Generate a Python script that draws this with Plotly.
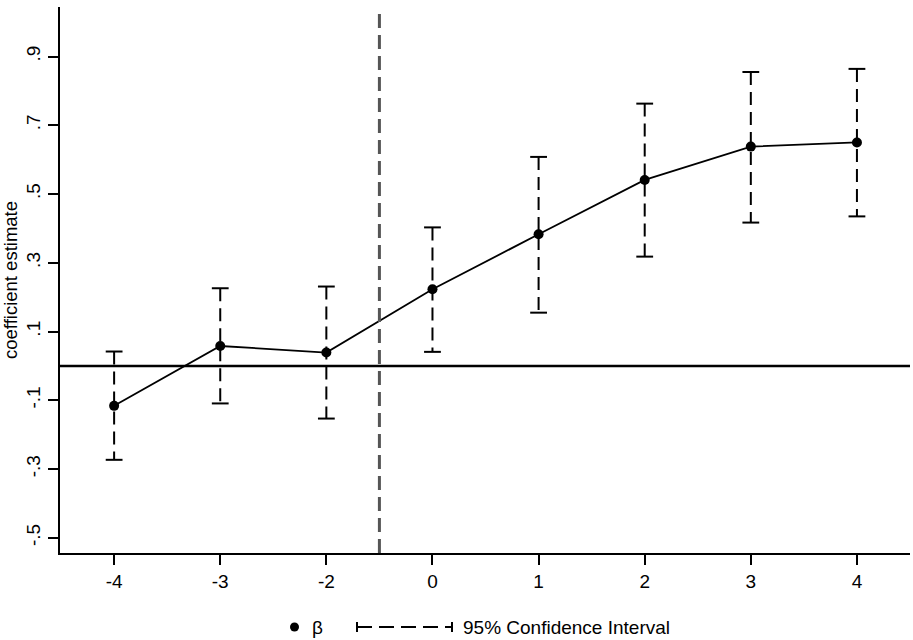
import plotly.graph_objects as go

categories = ["-4", "-3", "-2", "0", "1", "2", "3", "4"]
beta = [-0.116, 0.058, 0.039, 0.223, 0.383, 0.541, 0.638, 0.650]
ci_low = [-0.273, -0.109, -0.153, 0.041, 0.155, 0.318, 0.417, 0.435]
ci_high = [0.042, 0.226, 0.231, 0.403, 0.608, 0.763, 0.855, 0.864]
ytick_vals = [-0.5, -0.3, -0.1, 0.1, 0.3, 0.5, 0.7, 0.9]
ytick_text = ["-.5", "-.3", "-.1", ".1", ".3", ".5", ".7", ".9"]
ref_after = "0"  # vertical reference line placed just before this period

FONT = "Liberation Sans, Arial, Helvetica, sans-serif"

fig = go.Figure()

# CI dashed segments
seg_x, seg_y = [], []
for c, lo, hi in zip(categories, ci_low, ci_high):
    seg_x += [c, c, None]
    seg_y += [hi, lo, None]
fig.add_trace(go.Scatter(x=seg_x, y=seg_y, mode="lines",
                         line=dict(color="black", width=2, dash="13px,7px"),
                         connectgaps=False, hoverinfo="skip", showlegend=False))
# CI caps
fig.add_trace(go.Scatter(x=categories + categories, y=ci_high + ci_low, mode="markers",
                         marker=dict(symbol="line-ew", size=12, color="black",
                                     line=dict(color="black", width=2)),
                         hoverinfo="skip", showlegend=False))
# point estimates
fig.add_trace(go.Scatter(x=categories, y=beta, mode="lines+markers",
                         line=dict(color="black", width=1.8),
                         marker=dict(color="black", size=10),
                         showlegend=False))

ref_x = categories.index(ref_after) - 0.5
shapes = [
    dict(type="line", xref="x", yref="paper", x0=ref_x, x1=ref_x, y0=0, y1=1,
         line=dict(color="#555555", width=3, dash="14px,7px")),
    dict(type="line", xref="paper", yref="y", x0=0, x1=1, y0=0, y1=0,
         line=dict(color="black", width=2.4)),
]

# manual legend (paper coordinates)
def px(xp):
    return (xp - 60) / 850.0

def py(yp):
    return (553 - yp) / 546.0

ly = py(627)
shapes += [
    dict(type="circle", xref="paper", yref="paper", xsizemode="pixel", ysizemode="pixel",
         xanchor=px(294.5), yanchor=ly, x0=-4.5, x1=4.5, y0=-4.5, y1=4.5,
         fillcolor="black", line=dict(color="black", width=0)),
    dict(type="line", xref="paper", yref="paper", x0=px(357), x1=px(452), y0=ly, y1=ly,
         line=dict(color="black", width=2, dash="15px,7px")),
    dict(type="line", xref="paper", yref="paper", x0=px(357), x1=px(357), y0=py(622), y1=py(632),
         line=dict(color="black", width=2)),
    dict(type="line", xref="paper", yref="paper", x0=px(452), x1=px(452), y0=py(622), y1=py(632),
         line=dict(color="black", width=2)),
]
annotations = [
    dict(text="β", xref="paper", yref="paper", x=px(317), y=ly, showarrow=False,
         xanchor="center", yanchor="middle", font=dict(family=FONT, size=19, color="black")),
    dict(text="95% Confidence Interval", xref="paper", yref="paper", x=px(461), y=ly,
         showarrow=False, xanchor="left", yanchor="middle",
         font=dict(family=FONT, size=19, color="black")),
]

fig.update_layout(
    width=913, height=640,
    margin=dict(l=60, r=3, t=7, b=87),
    plot_bgcolor="white", paper_bgcolor="white",
    showlegend=False,
    shapes=shapes, annotations=annotations,
    font=dict(family=FONT, color="black"),
    xaxis=dict(type="category", categoryorder="array", categoryarray=categories,
               range=[-0.51, 7.5], showline=True, linecolor="black", linewidth=2,
               ticks="outside", ticklen=10, tickwidth=2, tickcolor="black",
               showgrid=False, zeroline=False, automargin=False,
               tickfont=dict(family=FONT, size=19, color="black")),
    yaxis=dict(range=[-0.544, 1.044], tickvals=ytick_vals, ticktext=ytick_text,
               tickangle=-90, showline=True, linecolor="black", linewidth=2,
               ticks="outside", ticklen=10, tickwidth=2, tickcolor="black",
               showgrid=False, zeroline=False, automargin=False,
               tickfont=dict(family=FONT, size=19, color="black"),
               title=dict(text="coefficient estimate", standoff=5,
                          font=dict(family=FONT, size=18.5, color="black"))),
)

fig.write_html("out.html", config={"displayModeBar": False},
               post_script="document.body.style.margin='0';document.body.style.overflow='hidden';")
